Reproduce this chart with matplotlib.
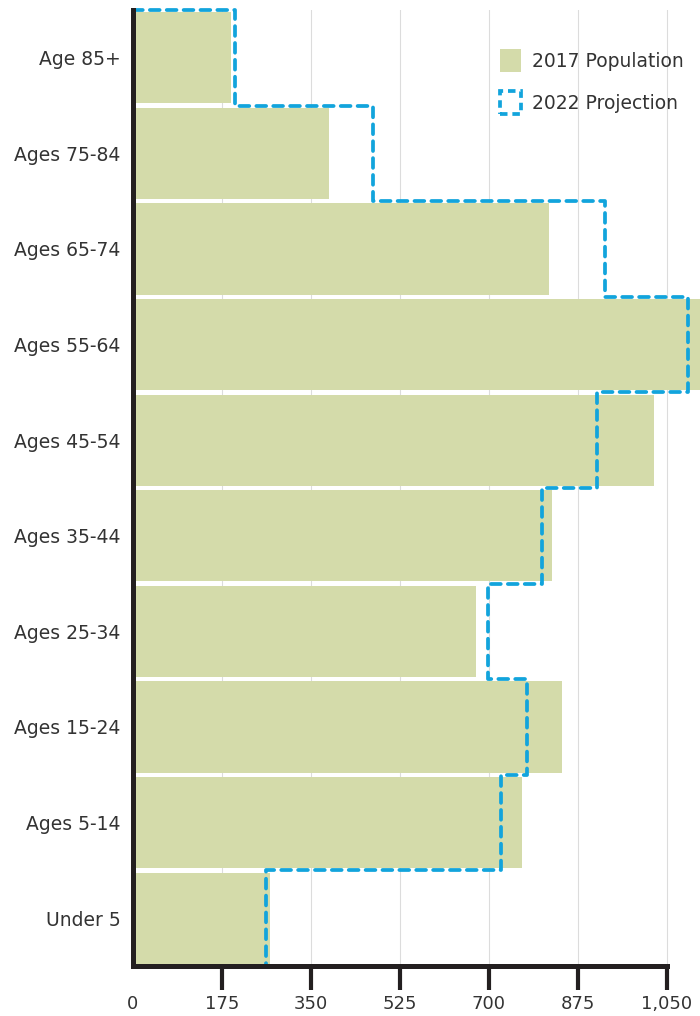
import numpy as np
import matplotlib
matplotlib.use("Agg")
import matplotlib.pyplot as plt
from matplotlib.patches import Patch

# age groups listed top to bottom
age_groups = ["Age 85+", "Ages 75-84", "Ages 65-74", "Ages 55-64", "Ages 45-54",
              "Ages 35-44", "Ages 25-34", "Ages 15-24", "Ages 5-14", "Under 5"]
pop_2017 = [193, 385, 818, 1120, 1025, 823, 674, 843, 765, 270]
proj_2022 = [200, 472, 928, 1091, 912, 804, 698, 774, 723, 261]
x_ticks = [0, 175, 350, 525, 700, 875, 1050]
x_tick_labels = ["0", "175", "350", "525", "700", "875", "1,050"]

green = "#d4dbaa"
blue = "#12a4dc"
dark = "#231f20"
text_col = "#333333"

plt.rcParams['font.family'] = ['DejaVu Sans']

fig = plt.figure(figsize=(7, 10.16), dpi=100)
ax = fig.add_axes([0.19, 0.0492, 0.81, 0.941])

y = np.arange(len(age_groups))
ax.barh(y, pop_2017, height=0.955, color=green, zorder=2)

# projection drawn as a stepped outline hugging the row boundaries
step_x = np.concatenate([[0], np.repeat(proj_2022, 2)])
step_y = np.concatenate([[-0.5], np.column_stack([y - 0.5, y + 0.5]).ravel()])
ax.plot(step_x, step_y, color=blue, lw=2.7, linestyle=(0, (2.6, 1.9)),
        dash_capstyle='round', solid_joinstyle='round', zorder=3, clip_on=False)

ax.set_ylim(len(age_groups) - 0.5, -0.5)
ax.set_xlim(0, 1115)
ax.set_yticks(y)
ax.set_yticklabels(age_groups, fontsize=13.5, color=text_col)
ax.tick_params(axis='y', length=0, pad=9)

ax.set_xticks(x_ticks)
ax.set_xticklabels(x_tick_labels, fontsize=13, color=text_col)
ax.tick_params(axis='x', length=17, width=3, color=dark, pad=4)
ax.xaxis.get_major_ticks()[0].tick1line.set_visible(False)

for xv in x_ticks[1:]:
    ax.axvline(xv, color="#dcdcdc", lw=0.8, zorder=1)

for side in ["top", "right"]:
    ax.spines[side].set_visible(False)
for side in ["left", "bottom"]:
    ax.spines[side].set_linewidth(3.6)
    ax.spines[side].set_color(dark)
    ax.spines[side].set_zorder(4)
ax.spines["bottom"].set_bounds(0, 1050)

handles = [Patch(facecolor=green, edgecolor="none", label="2017 Population"),
           Patch(facecolor="none", edgecolor=blue, linestyle=(0, (2.0, 1.3)),
                 linewidth=2.7, label="2022 Projection")]
fig.legend(handles=handles, loc="upper left", bbox_to_anchor=(0.69, 0.968),
           frameon=False, fontsize=13.5, handlelength=1.1, handleheight=1.45,
           handletextpad=0.6, labelspacing=1.05, labelcolor=text_col)

fig.savefig("out.png", dpi=100)
